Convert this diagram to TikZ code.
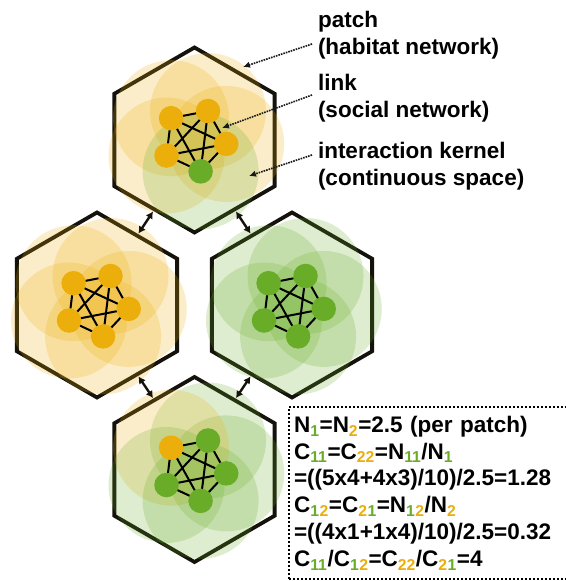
\documentclass[tikz,border=0pt]{standalone}
\usepackage{fontspec}
\setmainfont{Liberation Sans}
\usetikzlibrary{arrows.meta, shapes.geometric}
\definecolor{indorange}{RGB}{236,174,10}
\definecolor{indgreen}{RGB}{104,172,40}
\definecolor{edgeblack}{RGB}{20,18,10}
\newcommand{\subg}[1]{\textsubscript{\textcolor{indgreen}{#1}}}
\newcommand{\subo}[1]{\textsubscript{\textcolor{indorange}{#1}}}

\begin{document}
\begin{tikzpicture}[x=1pt, y=1pt,
  patch/.style={regular polygon, regular polygon sides=6, shape border rotate=30,
    minimum size=185pt, inner sep=0pt, outer sep=0pt, draw=edgeblack, line width=3.8pt},
  kernel/.style={fill opacity=0.22},
  ind/.style={circle, minimum size=24.5pt, inner sep=0pt, outer sep=0pt},
  link/.style={line width=2pt, black},
  move/.style={{Latex[length=7pt,width=8pt]}-{Latex[length=7pt,width=8pt]}, line width=2.4pt, edgeblack, shorten <=2.5pt, shorten >=2.5pt},
  lbl/.style={anchor=west, align=left, inner xsep=6pt, outer sep=0pt, font=\fontsize{22.5}{26.8}\selectfont\bfseries},
  pointer/.style={-{Latex[length=7pt,width=6.5pt]}, densely dotted, line width=1.6pt, black!90}]

  \useasboundingbox (0,0) rectangle (565,581);

  % Patches (habitat network)
  \node[patch] (ptop) at (194.5,441) {};
  \node[patch] (pleft) at (97,276) {};
  \node[patch] (pright) at (292,276) {};
  \node[patch] (pbot) at (194.5,111.5) {};

  % Individuals, kernels and links in each patch
  \foreach \p/\cs in {ptop/{indorange,indorange,indorange,indorange,indgreen},
                      pleft/{indorange,indorange,indorange,indorange,indorange},
                      pright/{indgreen,indgreen,indgreen,indgreen,indgreen},
                      pbot/{indgreen,indgreen,indorange,indgreen,indgreen}} {
    \foreach \c [count=\k] in \cs
      \fill[kernel, \c] ([shift={({72*\k-79}:32)}]\p) circle[radius=58];
    \foreach \c [count=\k] in \cs
      \node[ind, fill=\c] (\p-\k) at ([shift={({72*\k-79}:32)}]\p) {};
    \foreach \a/\b in {1/2,1/3,1/4,1/5,2/3,2/4,2/5,3/4,3/5,4/5}
      \draw[link] (\p-\a) -- (\p-\b);
  }

  % Movement between patches
  \draw[move] (ptop.240) -- (pleft.60);
  \draw[move] (ptop.300) -- (pright.120);
  \draw[move] (pleft.300) -- (pbot.120);
  \draw[move] (pright.240) -- (pbot.60);

  % Labels
  \node[lbl] (patchlbl) at (312,546) {patch\\(habitat network)};
  \node[lbl] (linklbl) at (312,482.5) {link\\(social network)};
  \node[lbl] (kernlbl) at (312,414.5) {interaction kernel\\(continuous space)};

  \coordinate (patchtip) at (243,514);
  \coordinate (linktip) at (222,453);
  \coordinate (kerntip) at (249,405);
  \draw[pointer] ([yshift=-9pt]patchlbl.west) -- (patchtip);
  \draw[pointer] ([yshift=3.5pt]linklbl.west) -- (linktip);
  \draw[pointer] ([yshift=11.5pt]kernlbl.west) -- (kerntip);

  % Summary
  \node[draw, line width=2.2pt, dash pattern=on 2pt off 2pt, anchor=north west,
    text width=269pt, inner xsep=5pt, minimum height=172pt, align=left,
    font=\fontsize{22.5}{26.8}\selectfont\bfseries] (summary) at (288,175) {%
    N\subg{1}=N\subo{2}=2.5 (per patch)\\
    C\subg{11}=C\subo{22}=N\subg{11}/N\subg{1}\\
    =((5x4+4x3)/10)/2.5=1.28\\
    C\subg{1}\subo{2}=C\subo{2}\subg{1}=N\subg{1}\subo{2}/N\subo{2}\\
    =((4x1+1x4)/10)/2.5=0.32\\
    C\subg{11}/C\subg{1}\subo{2}=C\subo{22}/C\subo{2}\subg{1}=4};

\end{tikzpicture}
\end{document}
